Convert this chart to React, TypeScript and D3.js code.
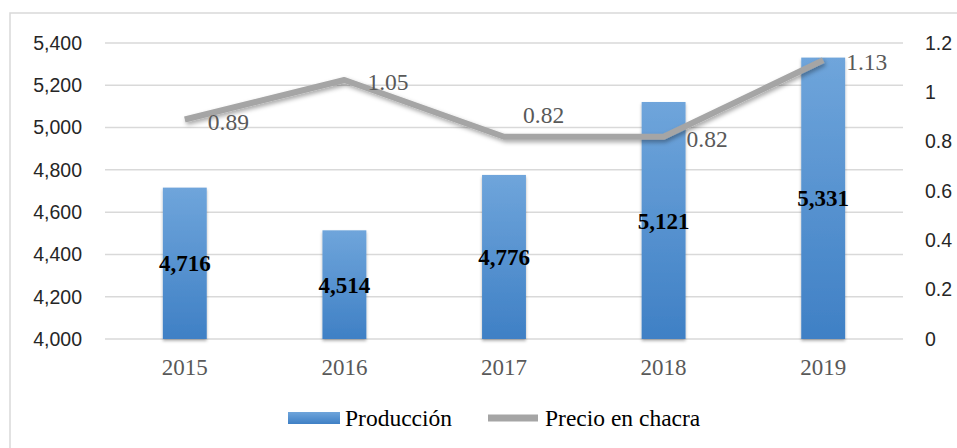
import React from "react";
import * as d3 from "d3";

const years = ["2015", "2016", "2017", "2018", "2019"];
const produccion = [4716, 4514, 4776, 5121, 5331];
const precio = [0.89, 1.05, 0.82, 0.82, 1.13];
const leftTicks = [4000, 4200, 4400, 4600, 4800, 5000, 5200, 5400];
const rightTicks = [0, 0.2, 0.4, 0.6, 0.8, 1, 1.2];
const priceLabelPlacement = ["right", "right", "above", "right", "right"];

const W = 957;
const H = 448;
const plotLeft = 105;
const plotRight = 903;
const plotTop = 43;
const plotBottom = 339;

export default function App() {
  const x = d3.scaleBand<string>().domain(years).range([plotLeft, plotRight]).paddingInner(0.725).paddingOuter(0.3625);
  const yL = d3.scaleLinear().domain([4000, 5400]).range([plotBottom, plotTop]);
  const yR = d3.scaleLinear().domain([0, 1.2]).range([plotBottom, plotTop]);
  const fmt = d3.format(",");
  const cx = (y: string) => (x(y) as number) + x.bandwidth() / 2;

  const line = d3
    .line<number>()
    .x((_, i) => cx(years[i]))
    .y((d) => yR(d));

  const serif = "'Liberation Serif', 'Times New Roman', serif";
  const sans = "'Liberation Sans', Arial, sans-serif";

  return (
    <div style={{ position: "absolute", left: 0, top: 0 }}>
      <svg width={W} height={H} style={{ display: "block", background: "#fff" }}>
        <defs>
          <linearGradient id="barGrad" x1="0" y1="0" x2="0" y2="1">
            <stop offset="0%" stopColor="#6fa5db" />
            <stop offset="100%" stopColor="#3f80c5" />
          </linearGradient>
          <filter id="shadow" x="-30%" y="-30%" width="160%" height="160%">
            <feDropShadow dx="1.5" dy="2.5" stdDeviation="2" floodColor="#000" floodOpacity="0.35" />
          </filter>
          <filter id="barShadow" x="-30%" y="-10%" width="160%" height="120%">
            <feDropShadow dx="0" dy="2" stdDeviation="1.8" floodColor="#000" floodOpacity="0.3" />
          </filter>
        </defs>
        <rect x={10} y={13} width={970} height={460} fill="none" stroke="#d9d9d9" strokeWidth={1.5} />

        {leftTicks.map((t) => (
          <g key={"g" + t}>
            <line x1={plotLeft} x2={plotRight} y1={yL(t)} y2={yL(t)} stroke="#d9d9d9" strokeWidth={1.5} />
            <text x={82} y={yL(t)} dy="0.35em" textAnchor="end" fontFamily={sans} fontSize={19.5} fill="#262626">
              {fmt(t)}
            </text>
          </g>
        ))}
        {rightTicks.map((t) => (
          <text key={"r" + t} x={925} y={yR(t)} dy="0.35em" textAnchor="start" fontFamily={sans} fontSize={19.5} fill="#262626">
            {String(t)}
          </text>
        ))}

        {years.map((yr, i) => (
          <rect
            key={"b" + yr}
            x={x(yr)}
            y={yL(produccion[i])}
            width={x.bandwidth()}
            height={plotBottom - yL(produccion[i])}
            fill="url(#barGrad)"
            filter="url(#barShadow)"
          />
        ))}

        <path d={line(precio) || ""} fill="none" stroke="#a5a5a5" strokeWidth={6} strokeLinejoin="round" filter="url(#shadow)" />

        {years.map((yr, i) => {
          const top = yL(produccion[i]);
          const mid = (top + plotBottom) / 2;
          return (
            <text
              key={"bl" + yr}
              x={cx(yr)}
              y={mid}
              dy="0.35em"
              textAnchor="middle"
              fontFamily={serif}
              fontWeight="bold"
              fontSize={23}
              fill="#000"
            >
              {fmt(produccion[i])}
            </text>
          );
        })}

        {years.map((yr, i) => {
          const px = cx(yr);
          const py = yR(precio[i]);
          const above = priceLabelPlacement[i] === "above";
          return (
            <text
              key={"pl" + yr}
              x={above ? px + 19 : px + 23}
              y={above ? py - 22 : py + 2}
              dy="0.35em"
              textAnchor="start"
              fontFamily={serif}
              fontSize={23.5}
              fill="#595959"
            >
              {d3.format(".2f")(precio[i])}
            </text>
          );
        })}

        {years.map((yr) => (
          <text key={"xl" + yr} x={cx(yr)} y={367} dy="0.35em" textAnchor="middle" fontFamily={serif} fontSize={23} fill="#595959">
            {yr}
          </text>
        ))}

        <g>
          <rect x={288} y={412} width={52} height={12} fill="url(#barGrad)" />
          <text x={345} y={418} dy="0.35em" fontFamily={serif} fontSize={23.5} fill="#000">
            Producción
          </text>
          <line x1={488} x2={538} y1={418} y2={418} stroke="#a5a5a5" strokeWidth={7} />
          <text x={545} y={418} dy="0.35em" fontFamily={serif} fontSize={23.5} fill="#000">
            Precio en chacra
          </text>
        </g>
      </svg>
    </div>
  );
}
